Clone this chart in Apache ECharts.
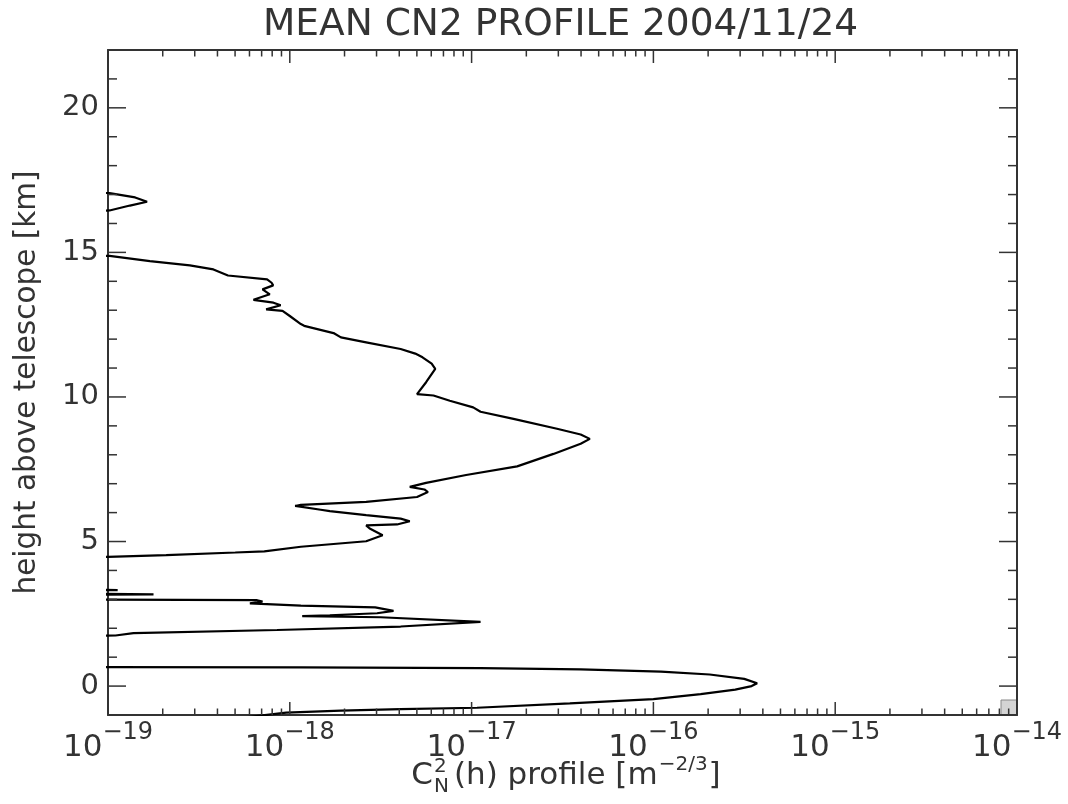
<!DOCTYPE html>
<html>
<head>
<meta charset="utf-8">
<script src="https://cdn.jsdelivr.net/npm/echarts@6/dist/echarts.min.js"></script>
<style>html,body{margin:0;padding:0;background:#fff}#c{width:1068px;height:804px}</style>
</head>
<body>
<div id="c"></div>
<script>
// ---- data (height in km, Cn2 in m^-2/3; 1e-20 = below plot floor) ----
const heightKm = [
  17.25, 17.05, 16.90, 16.75, 16.62, 16.45, 16.30,
  15.00, 14.88, 14.70, 14.55, 14.41, 14.20, 14.07, 13.95, 13.86, 13.72, 13.55, 13.36, 13.26,
  13.17, 13.03, 12.98, 12.80, 12.52, 12.46, 12.21, 12.06, 11.89, 11.66, 11.50, 11.37, 11.15,
  10.97, 10.51, 10.10, 10.05, 9.87, 9.64, 9.49, 9.24, 8.90, 8.70, 8.55, 8.38, 8.03, 7.60,
  7.30, 7.03, 6.89, 6.80, 6.71, 6.54, 6.37, 6.27, 6.23, 6.10, 6.05, 5.91, 5.79, 5.70, 5.59,
  5.56, 5.45, 5.22, 5.01, 4.82, 4.66, 4.62, 4.53, 4.47, 4.40,
  3.40, 3.32, 3.25, 3.20, 3.17, 3.12, 3.02, 2.97, 2.92, 2.86, 2.78, 2.72, 2.60, 2.52, 2.45,
  2.42, 2.38, 2.22, 2.06, 1.94, 1.83, 1.75, 1.65,
  0.75, 0.66, 0.645, 0.62, 0.58, 0.50, 0.40, 0.25, 0.10, 0.00, -0.12, -0.28, -0.45, -0.60,
  -0.75, -0.80, -0.85, -0.92, -1.10
];
const cn2Profile = [
  1e-20, 1.02e-19, 1.41e-19, 1.64e-19, 1.32e-19, 1.02e-19, 1e-20,
  1e-20, 1.02e-19, 1.70e-19, 2.82e-19, 3.80e-19, 4.57e-19, 7.50e-19, 7.94e-19, 8.10e-19, 7.08e-19, 7.76e-19, 6.31e-19, 8.13e-19,
  8.91e-19, 7.41e-19, 9.12e-19, 1.00e-18, 1.15e-18, 1.20e-18, 1.74e-18, 1.91e-18, 2.63e-18, 4.07e-18, 4.90e-18, 5.37e-18, 6.03e-18,
  6.31e-18, 5.62e-18, 5.01e-18, 6.17e-18, 7.59e-18, 1.02e-17, 1.12e-17, 1.70e-17, 2.95e-17, 3.98e-17, 4.47e-17, 3.98e-17, 2.82e-17, 1.78e-17,
  9.33e-18, 5.62e-18, 4.57e-18, 5.50e-18, 5.75e-18, 5.01e-18, 2.63e-18, 1.15e-18, 1.07e-18, 1.48e-18, 1.66e-18, 2.63e-18, 4.07e-18, 4.57e-18, 3.89e-18,
  2.63e-18, 2.75e-18, 3.24e-18, 2.63e-18, 1.15e-18, 7.24e-19, 5.01e-19, 2.09e-19, 1.00e-19, 1e-20,
  1e-20, 1.13e-19, 1e-20, 1e-20, 1.78e-19, 1e-20, 1e-20, 6.61e-19, 7.08e-19, 6.03e-19, 1.15e-18, 2.95e-18, 3.72e-18, 3.02e-18, 1.66e-18,
  1.17e-18, 3.16e-18, 1.12e-17, 4.07e-18, 8.51e-19, 1.38e-19, 1.10e-19, 1e-20,
  1e-20, 1e-20, 1.15e-18, 1.12e-17, 3.98e-17, 1.10e-16, 2.04e-16, 3.16e-16, 3.72e-16, 3.47e-16, 2.82e-16, 1.82e-16, 1.00e-16, 3.47e-17,
  1.07e-17, 4.07e-18, 1.91e-18, 9.55e-19, 5.37e-19
];
// ---- axis tick definitions ----
const xDecades = [1e-19, 1e-18, 1e-17, 1e-16, 1e-15, 1e-14];
const xMinorMultipliers = [2, 3, 4, 5, 6, 7, 8, 9];
const yMajorTicks = [0, 5, 10, 15, 20];
const yMinorTicks = [1, 2, 3, 4, 6, 7, 8, 9, 11, 12, 13, 14, 16, 17, 18, 19, 21];
const titleText = 'MEAN CN2 PROFILE 2004/11/24';
const yTitle = 'height above telescope [km]';

const FONT = '"DejaVu Sans", sans-serif';
const INK = '#333';

const lineData = heightKm.map((h, i) => [cn2Profile[i], h]);
const xTickData = [];
xDecades.forEach((d, i) => {
  xTickData.push([d, 0, 1]);
  if (i < xDecades.length - 1) xMinorMultipliers.forEach(m => xTickData.push([m * d, 0, 0]));
});
const yTickData = yMajorTicks.map(h => [1e-18, h, 1]).concat(yMinorTicks.map(h => [1e-18, h, 0]));

const chart = echarts.init(document.getElementById('c'), null, {renderer: 'canvas'});

// x-axis title layout (stacked sub/superscript)
const ctx = document.createElement('canvas').getContext('2d');
function tw(t, s) { ctx.font = s + 'px "DejaVu Sans"'; return ctx.measureText(t).width; }
const big = 31, small = 20;
const pieces = { c: 'C', main: '(h) profile [m', sup: '\u22122/3', close: ']' };
const wC = tw(pieces.c, big), wS = Math.max(tw('2', small), tw('N', small)),
      wM = tw(pieces.main, big), wSup = tw(pieces.sup, small), wCl = tw(pieces.close, big);
const total = wC + 1 + wS + 5 + wM + 1 + wSup + 1 + wCl;
const x0 = 566 - total / 2, ym = 776;
const tStyle = (text, size) => ({ text, fontSize: size, fontFamily: FONT, fill: INK, textVerticalAlign: 'middle', verticalAlign: 'middle' });

const axisLineStyle = { color: INK, width: 2 };

chart.setOption({
  animation: false,
  title: {
    text: titleText, left: 258, top: 1,
    textStyle: { fontSize: 37.5, fontWeight: 'normal', color: INK, fontFamily: FONT }
  },
  grid: { left: 108, top: 50, right: 51, bottom: 89, containLabel: false },
  xAxis: [
    {
      type: 'log', logBase: 10, min: 1e-19, max: 1e-14, position: 'bottom',
      axisLine: { show: true, onZero: false, lineStyle: axisLineStyle },
      axisTick: { show: false }, minorTick: { show: false },
      splitLine: { show: false }, minorSplitLine: { show: false },
      axisLabel: {
        interval: 0, margin: 6,
        formatter: v => { const e = Math.round(Math.log10(v)); return '{b|10}{s|' + (e < 0 ? '\u2212' : '') + Math.abs(e) + '}'; },
        rich: {
          b: { fontSize: 31, color: INK, fontFamily: FONT, lineHeight: 42, verticalAlign: 'bottom' },
          s: { fontSize: 24, color: INK, fontFamily: FONT, lineHeight: 26, verticalAlign: 'top' }
        }
      }
    },
    {
      type: 'log', logBase: 10, min: 1e-19, max: 1e-14, position: 'top',
      axisLine: { show: true, onZero: false, lineStyle: axisLineStyle },
      axisTick: { show: false }, axisLabel: { show: false }, splitLine: { show: false }
    }
  ],
  yAxis: [
    {
      type: 'value', min: -1, max: 22, interval: 1, position: 'left',
      axisLine: { show: true, onZero: false, lineStyle: axisLineStyle },
      axisTick: { show: false }, splitLine: { show: false },
      axisLabel: { interval: 0, margin: 9, fontSize: 29, color: INK, fontFamily: FONT,
        formatter: v => (v % 5 === 0 ? String(v) : '') },
      name: yTitle, nameLocation: 'middle', nameRotate: 90, nameGap: 66,
      nameTextStyle: { fontSize: 29.5, color: INK, fontFamily: FONT }
    },
    {
      type: 'value', min: -1, max: 22, interval: 1, position: 'right',
      axisLine: { show: true, onZero: false, lineStyle: axisLineStyle },
      axisTick: { show: false }, axisLabel: { show: false }, splitLine: { show: false }
    }
  ],
  series: [
    {
      type: 'line', xAxisIndex: 0, yAxisIndex: 0, data: lineData,
      showSymbol: false, symbol: 'none', clip: true, smooth: false,
      lineStyle: { color: '#000', width: 2.2 }, z: 3
    },
    {
      type: 'custom', xAxisIndex: 0, yAxisIndex: 0, data: xTickData, silent: true, clip: false,
      encode: { x: 0, y: 1 }, z: 4,
      renderItem: (params, api) => {
        const cs = params.coordSys;
        const x = api.coord([api.value(0), 0])[0];
        const len = api.value(2) ? 13 : 6.5;
        const yb = cs.y + cs.height, yt = cs.y;
        const st = { stroke: INK, lineWidth: 1.5 };
        return { type: 'group', children: [
          { type: 'line', shape: { x1: x, y1: yb, x2: x, y2: yb - len }, style: st },
          { type: 'line', shape: { x1: x, y1: yt, x2: x, y2: yt + len }, style: st }
        ]};
      }
    },
    {
      type: 'custom', xAxisIndex: 0, yAxisIndex: 0, data: yTickData, silent: true, clip: false,
      encode: { x: 0, y: 1 }, z: 4,
      renderItem: (params, api) => {
        const cs = params.coordSys;
        const y = api.coord([1e-18, api.value(1)])[1];
        const len = api.value(2) ? 18 : 9;
        const xl = cs.x, xr = cs.x + cs.width;
        const st = { stroke: INK, lineWidth: 1.5 };
        return { type: 'group', children: [
          { type: 'line', shape: { x1: xl, y1: y, x2: xl + len, y2: y }, style: st },
          { type: 'line', shape: { x1: xr, y1: y, x2: xr - len, y2: y }, style: st }
        ]};
      }
    }
  ],
  graphic: [
    { type: 'group', silent: true, children: [
      { type: 'text', x: x0, y: ym, style: tStyle(pieces.c, big) },
      { type: 'text', x: x0 + wC + 1, y: ym - 9, style: tStyle('2', small) },
      { type: 'text', x: x0 + wC + 1, y: ym + 11, style: tStyle('N', small) },
      { type: 'text', x: x0 + wC + 1 + wS + 5, y: ym, style: tStyle(pieces.main, big) },
      { type: 'text', x: x0 + wC + 1 + wS + 5 + wM + 1, y: ym - 11, style: tStyle(pieces.sup, small) },
      { type: 'text', x: x0 + wC + 1 + wS + 5 + wM + 1 + wSup + 1, y: ym, style: tStyle(pieces.close, big) }
    ]},
    { type: 'rect', silent: true, shape: { x: 1001, y: 700, width: 16, height: 15 },
      style: { fill: '#d4d4d4', stroke: '#888', lineWidth: 1 } }
  ]
});
</script>
</body>
</html>
